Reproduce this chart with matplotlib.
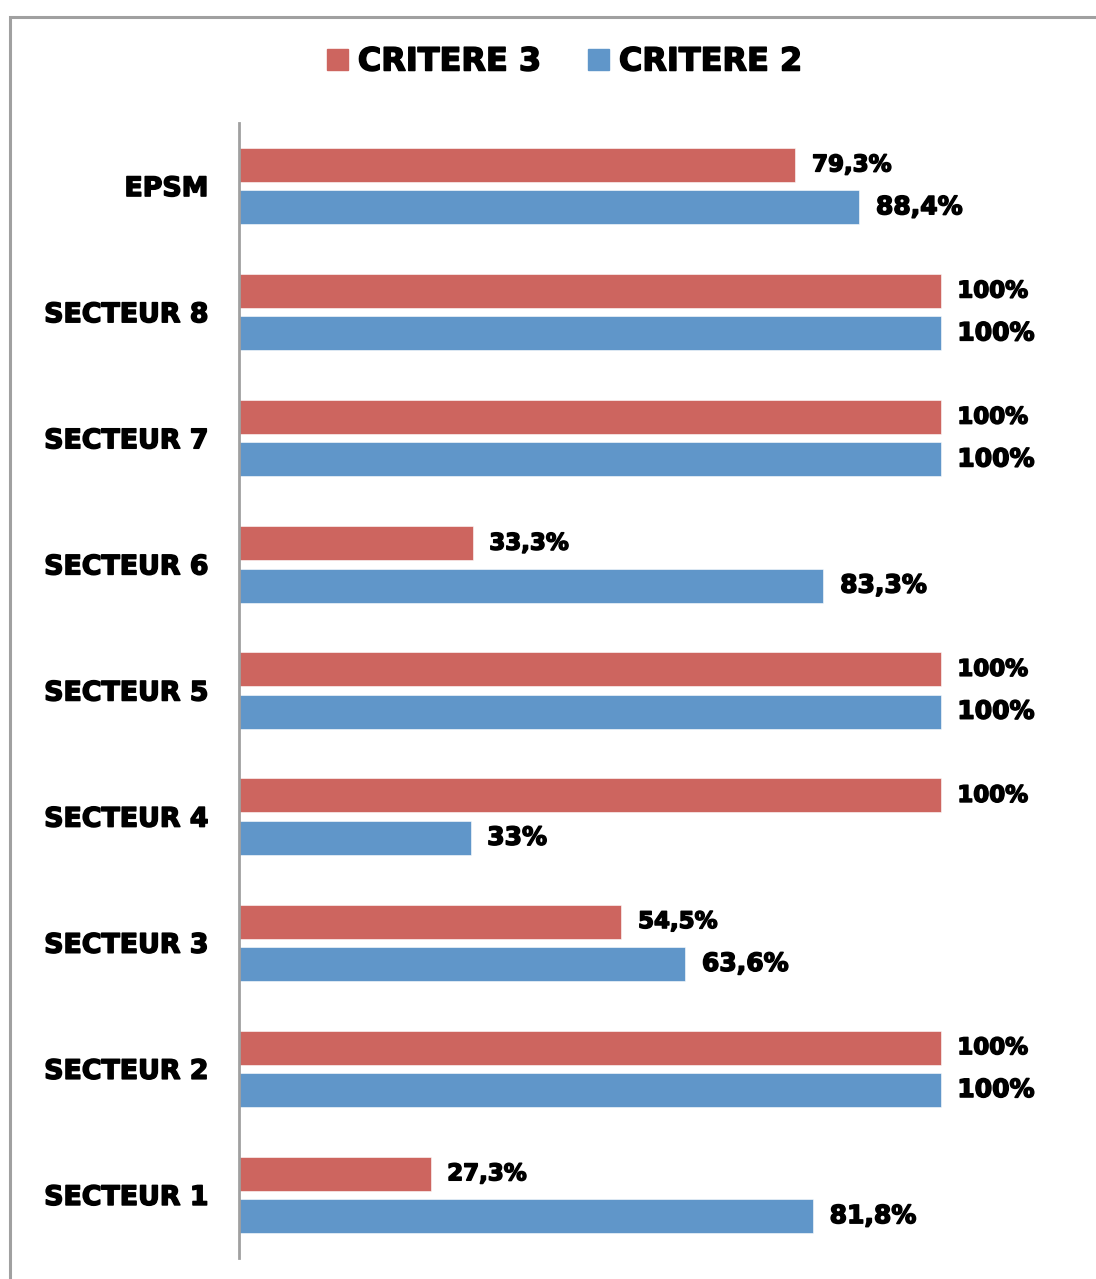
import matplotlib.pyplot as plt
import matplotlib.patheffects as pe
import numpy as np
from matplotlib.patches import Rectangle, Patch

categories = ['SECTEUR 1', 'SECTEUR 2', 'SECTEUR 3', 'SECTEUR 4', 'SECTEUR 5',
              'SECTEUR 6', 'SECTEUR 7', 'SECTEUR 8', 'EPSM']
critere3 = [27.3, 100, 54.5, 100, 100, 33.3, 100, 100, 79.3]
critere2 = [81.8, 100, 63.6, 33, 100, 83.3, 100, 100, 88.4]
labels3 = ['27,3%', '100%', '54,5%', '100%', '100%', '33,3%', '100%', '100%', '79,3%']
labels2 = ['81,8%', '100%', '63,6%', '33%', '100%', '83,3%', '100%', '100%', '88,4%']

red = '#CD655F'
blue = '#6096C9'
grey = '#A0A0A0'

# heavier look for all the bold text
heavy = [pe.withStroke(linewidth=1.1, foreground='black')]

W, H = 1096, 1279
fig = plt.figure(figsize=(W / 100, H / 100), dpi=100)

# outer chart frame, runs off the right and bottom edges
fig.patches.append(Rectangle((9.5 / W, -0.05), 1.2, 1 - 16.5 / H + 0.05,
                             transform=fig.transFigure, fill=False,
                             edgecolor=grey, linewidth=2.2))

left, right, top, bottom = 239, 1081, 123, 1258
ax = fig.add_axes([left / W, 1 - bottom / H, (right - left) / W, (bottom - top) / H])

y = np.arange(len(categories))
off = 0.168
h = 0.27
b3 = ax.barh(y + off, critere3, height=h, color=red, edgecolor='white', linewidth=0.4)
b2 = ax.barh(y - off, critere2, height=h, color=blue, edgecolor='white', linewidth=0.4)

for bar, txt in zip(b3, labels3):
    ax.annotate(txt, (bar.get_width(), bar.get_y() + bar.get_height() / 2),
                xytext=(12, 0), textcoords='offset points', va='center', ha='left',
                fontsize=16.5, fontweight='bold', color='black', path_effects=heavy)
for bar, txt in zip(b2, labels2):
    ax.annotate(txt, (bar.get_width(), bar.get_y() + bar.get_height() / 2),
                xytext=(12, 0), textcoords='offset points', va='center', ha='left',
                fontsize=18, fontweight='bold', color='black', path_effects=heavy)

ax.set_xlim(0, 120)
ax.set_ylim(-0.5, len(categories) - 0.5)
ax.set_yticks(y)
ax.set_yticklabels(categories, fontsize=19.3, fontweight='bold')
for t in ax.get_yticklabels():
    t.set_path_effects(heavy)
ax.tick_params(axis='y', length=0, pad=22)
ax.set_xticks([])
for s in ['top', 'right', 'bottom']:
    ax.spines[s].set_visible(False)
ax.spines['left'].set_color(grey)
ax.spines['left'].set_linewidth(2)

handles = [Patch(color=red, label='CRITERE 3'), Patch(color=blue, label='CRITERE 2')]
leg = fig.legend(handles=handles, loc='center', bbox_to_anchor=(564.5 / W, 1 - 62 / H),
                 ncol=2, frameon=False, prop={'size': 23, 'weight': 'bold'},
                 handlelength=0.66, handleheight=0.66, handletextpad=0.31,
                 columnspacing=1.47)
for t in leg.get_texts():
    t.set_path_effects(heavy)

fig.savefig('out.png', dpi=100)
